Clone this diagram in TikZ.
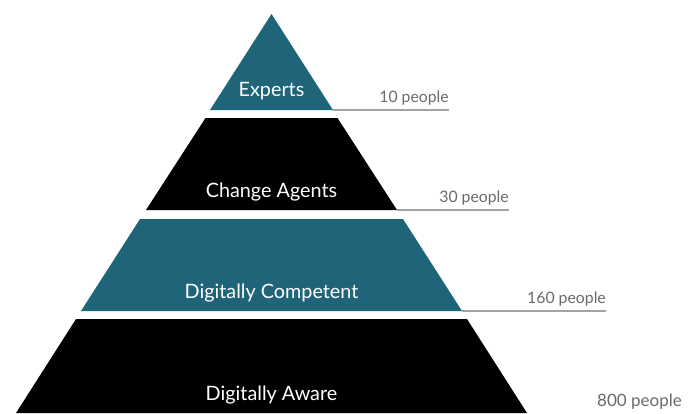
\documentclass[tikz,border=0pt]{standalone}
\usepackage{fontspec}
\setmainfont{Lato}
\definecolor{pyrteal}{HTML}{1F6478}
\definecolor{pplgray}{HTML}{6A6A6A}
\definecolor{rulegray}{HTML}{A3A3A3}

\begin{document}
\begin{tikzpicture}[x=1pt, y=-1pt,
	tiertext/.style={text=white, anchor=base, inner sep=0pt, font=\fontsize{19.8}{22}\selectfont},
	ppl/.style={text=pplgray, anchor=base east, inner sep=0pt, font=\fontsize{15.8}{18}\selectfont},
	rule/.style={draw=rulegray, line width=1.4pt}]
	\useasboundingbox (0,0) rectangle (696,413);

	% tiers, top to bottom
	\fill[pyrteal] (271.5,14) -- (333,110) -- (210,110) -- cycle;
	\fill[black] (205.5,118) -- (337.5,118) -- (397,210) -- (146,210) -- cycle;
	\fill[pyrteal] (140,219) -- (403,219) -- (462,311) -- (81,311) -- cycle;
	\fill[black] (76,319) -- (467,319) -- (527,413) -- (16,413) -- cycle;

	\node[tiertext] (experts) at (271.5,96) {Experts};
	\node[tiertext] (agents) at (271.5,197) {Change Agents};
	\node[tiertext] (competent) at (271.5,298) {Digitally Competent};
	\node[tiertext] (aware) at (271.5,400) {Digitally Aware};

	% people counts
	\coordinate (c1) at (333,110);
	\coordinate (e1) at (449,110);
	\coordinate (c2) at (397,210);
	\coordinate (e2) at (509,210);
	\coordinate (c3) at (462,311);
	\coordinate (e3) at (606,311);
	\draw[rule] (c1) -- (e1);
	\draw[rule] (c2) -- (e2);
	\draw[rule] (c3) -- (e3);
	\node[ppl] (n10) at ([yshift=8pt]e1) {10 people};
	\node[ppl] (n30) at ([yshift=8pt]e2) {30 people};
	\node[ppl] (n160) at ([yshift=8pt]e3) {160 people};
	\node[ppl, font=\fontsize{17}{19}\selectfont] (n800) at (682,406) {800 people};

\end{tikzpicture}
\end{document}
